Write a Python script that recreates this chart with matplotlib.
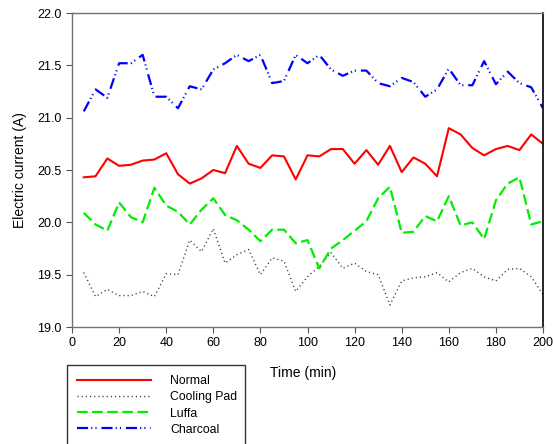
import matplotlib
matplotlib.use("Agg")
import matplotlib.pyplot as plt
from matplotlib.lines import Line2D
from matplotlib.patches import Rectangle

plt.rcParams['font.family'] = ['Liberation Sans', 'DejaVu Sans']

# time axis (min)
time = list(range(5, 201, 5))

# electric current (A)
normal = [20.43, 20.44, 20.61, 20.54, 20.55, 20.59, 20.60, 20.66, 20.46, 20.37,
          20.42, 20.50, 20.47, 20.73, 20.56, 20.52, 20.64, 20.63, 20.41, 20.64,
          20.63, 20.70, 20.70, 20.56, 20.69, 20.55, 20.73, 20.48, 20.62, 20.56,
          20.44, 20.90, 20.84, 20.71, 20.64, 20.70, 20.73, 20.69, 20.84, 20.75]
cooling_pad = [19.52, 19.29, 19.36, 19.30, 19.30, 19.34, 19.29, 19.51, 19.50, 19.83,
               19.72, 19.94, 19.61, 19.69, 19.74, 19.50, 19.66, 19.63, 19.34, 19.48,
               19.58, 19.71, 19.56, 19.61, 19.53, 19.50, 19.21, 19.44, 19.47, 19.48,
               19.52, 19.43, 19.52, 19.56, 19.48, 19.44, 19.55, 19.56, 19.48, 19.31]
luffa = [20.09, 19.98, 19.92, 20.19, 20.05, 20.00, 20.33, 20.16, 20.10, 19.98,
         20.12, 20.23, 20.07, 20.02, 19.93, 19.82, 19.93, 19.93, 19.80, 19.83,
         19.56, 19.75, 19.83, 19.92, 20.01, 20.23, 20.34, 19.90, 19.91, 20.06,
         20.01, 20.25, 19.97, 20.00, 19.84, 20.21, 20.37, 20.43, 19.98, 20.01]
charcoal = [21.06, 21.27, 21.19, 21.52, 21.52, 21.60, 21.20, 21.20, 21.09, 21.30,
            21.27, 21.46, 21.52, 21.60, 21.54, 21.60, 21.33, 21.35, 21.60, 21.52,
            21.60, 21.46, 21.40, 21.45, 21.45, 21.33, 21.30, 21.38, 21.34, 21.20,
            21.27, 21.47, 21.31, 21.31, 21.54, 21.32, 21.44, 21.33, 21.29, 21.09]

labels = ['Normal', 'Cooling Pad', 'Luffa', 'Charcoal']

fig = plt.figure(figsize=(5.53, 4.44), dpi=100)
ax = fig.add_axes([72 / 553, 1 - 327 / 444, (543 - 72) / 553, (327 - 13) / 444])

ax.plot(time, normal, color='#ff0000', lw=1.5, linestyle='-')
ax.plot(time, cooling_pad, color='#333333', lw=1.0, linestyle=(0, (0.8, 2.2)))
ax.plot(time, luffa, color='#00ee00', lw=1.6, linestyle=(0, (4.8, 2.0)))
ax.plot(time, charcoal, color='#0000ff', lw=1.6,
        linestyle=(0, (5.0, 1.4, 0.5, 1.4, 0.5, 2.2)))

ax.set_xlim(0, 200)
ax.set_ylim(19.0, 22.0)
ax.set_xticks(range(0, 201, 20))
ax.set_yticks([19.0, 19.5, 20.0, 20.5, 21.0, 21.5, 22.0])
ax.set_yticklabels(['19.0', '19.5', '20.0', '20.5', '21.0', '21.5', '22.0'])
ax.tick_params(direction='out', length=4, width=0.8, labelsize=9, colors='#555555',
               labelcolor='black')

for side in ['left', 'bottom', 'top']:
    ax.spines[side].set_color('#707070')
    ax.spines[side].set_linewidth(1.0)
ax.spines['right'].set_color('black')
ax.spines['right'].set_linewidth(1.2)

ax.set_ylabel('Electric current (A)', fontsize=10, labelpad=7)
fig.text(270 / 553, 1 - 373 / 444, 'Time (min)', fontsize=10, va='center', ha='left')

# legend box (runs off the bottom of the figure as in the reference)
fig.patches.append(Rectangle((67 / 553, -0.05), (245 - 67) / 553, 0.05 + 1 - 365 / 444,
                             transform=fig.transFigure, fill=False,
                             edgecolor='#333333', linewidth=1.0, clip_on=False))
handles = [Line2D([], [], color='#ff0000', lw=1.5, linestyle='-'),
           Line2D([], [], color='#333333', lw=1.0, linestyle=(0, (0.8, 2.2))),
           Line2D([], [], color='#00ee00', lw=1.6, linestyle=(0, (4.8, 2.0))),
           Line2D([], [], color='#0000ff', lw=1.6,
                  linestyle=(0, (5.0, 1.4, 0.5, 1.4, 0.5, 2.2)))]
fig.legend(handles, labels, loc='upper left', bbox_to_anchor=(75 / 553, 1 - 373 / 444),
           frameon=False, fontsize=8.8, handlelength=6.0, handletextpad=1.6,
           labelspacing=0.33, borderpad=0.2, borderaxespad=0)

fig.savefig('out.png', dpi=100)
